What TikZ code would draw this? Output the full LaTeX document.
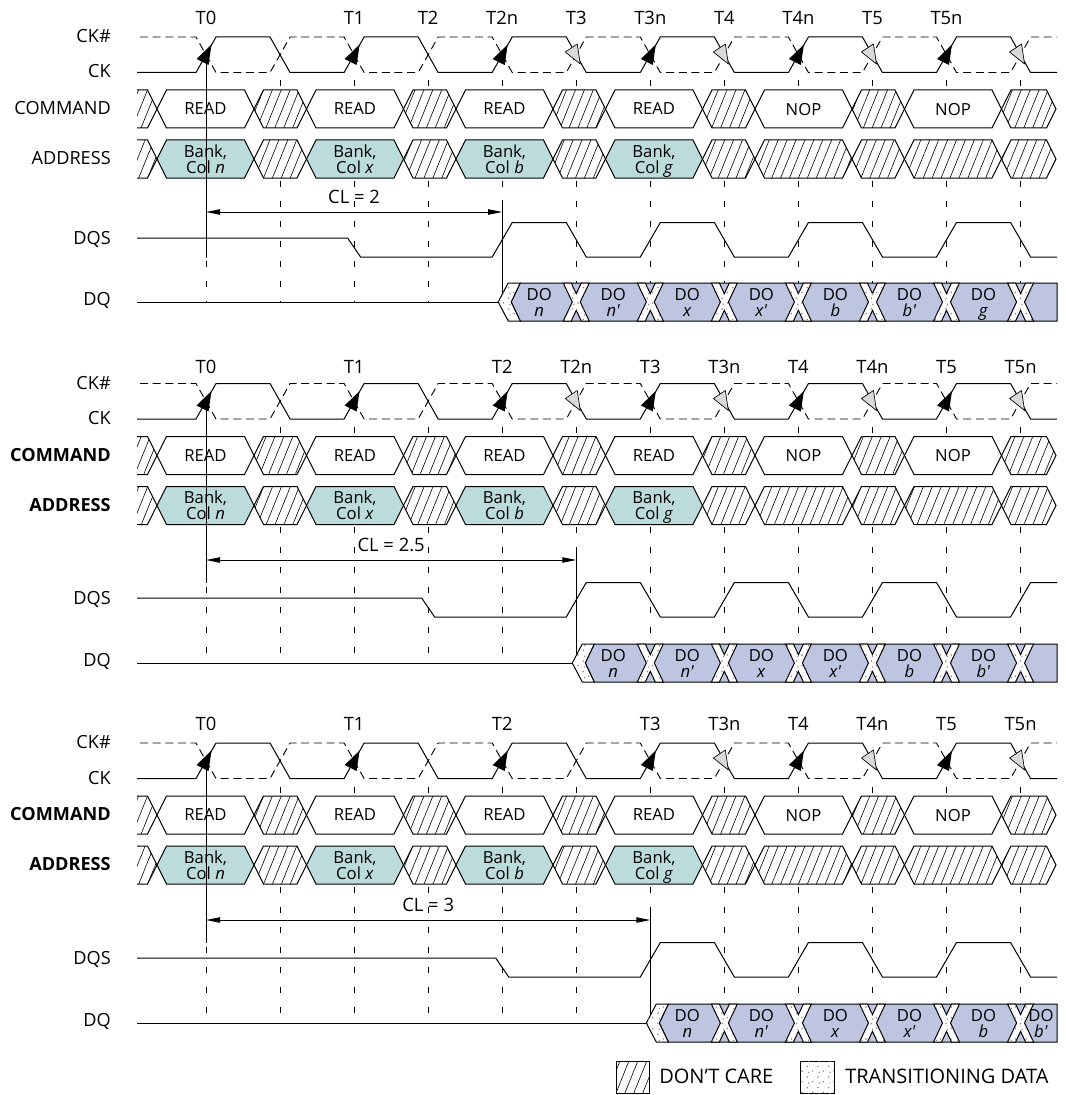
\documentclass[tikz,border=0pt]{standalone}
\usepackage{fontspec}
\setmainfont{Open Sans}
\usetikzlibrary{arrows.meta,patterns.meta}
\definecolor{addrfill}{HTML}{BBDCDA}
\definecolor{dqfill}{HTML}{BDC5E0}
\definecolor{arrgray}{HTML}{D9D9D9}
\definecolor{dotgray}{HTML}{7A7A7A}

\tikzdeclarepattern{
  name=sparsedots,
  type=uncolored,
  bottom left={(-1pt,-1pt)},
  top right={(9pt,9pt)},
  tile size={(8pt,8pt)},
  code={
    \fill (1.5pt,2pt) circle[radius=0.6pt];
    \fill (5.5pt,5.5pt) circle[radius=0.6pt];
    \fill (6.5pt,1pt) circle[radius=0.55pt];
  }
}

\newcommand\ckx[1]{(206+74.05*(#1))}
\newcommand\cmx[1]{(205.5+149.5*(#1))}
\newcommand\pr{\textquotesingle}

\tikzset{
  sig/.style={line width=0.75pt},
  ckb/.style={line width=0.7pt, dash pattern=on 6pt off 3.5pt},
  guide/.style={line width=0.6pt, dash pattern=on 4.5pt off 10.5pt},
  hatch/.style={fill=white, postaction={pattern={Lines[angle=68,distance=6.2pt,line width=0.45pt]}}},
  trans/.style={fill=white, postaction={pattern=sparsedots, pattern color=dotgray}},
  lab/.style={font=\fontsize{13.6}{16}\selectfont, anchor=base east, inner sep=0pt},
  blab/.style={font=\fontsize{13.6}{16}\selectfont\bfseries, anchor=base east, inner sep=0pt},
  tlab/.style={font=\fontsize{13.8}{16}\selectfont, anchor=base, inner sep=0pt},
  btxt/.style={font=\fontsize{12.5}{12}\selectfont, align=center, inner sep=0pt, text depth=0pt},
  legt/.style={font=\fontsize{15}{17}\selectfont, anchor=base west, inner sep=0pt},
  cla/.style={{Triangle[length=10.5pt,width=4pt]}-{Triangle[length=10.5pt,width=4pt]}},
}

\newcommand\hexa[5]{\draw[#1] ({#2},{(#4+#5)/2}) -- ({#2+9.5},{#4}) -- ({#3-9.5},{#4}) -- ({#3},{(#4+#5)/2}) -- ({#3-9.5},{#5}) -- ({#2+9.5},{#5}) -- cycle;}
\newcommand\barrow[2]{\fill[black] ({#1+5.5},{#2+7.5}) -- ({#1-9.5},{#2+22}) -- ({#1+2.5},{#2+28}) -- cycle;}
\newcommand\garrow[2]{\filldraw[fill=arrgray,draw=black,line width=0.5pt,line join=round] ({#1-11},{#2+15}) -- ({#1+1},{#2+7}) -- ({#1+4},{#2+27}) -- cycle;}

% #1 offset, #2 prefix, #3 label style, #4 guide bottom
\newcommand\toprows[4]{%
 \pgfmathsetmacro\yH{37+#1}%
 \pgfmathsetmacro\yL{72.5+#1}%
 \pgfmathsetmacro\yCt{90+#1}%
 \pgfmathsetmacro\yCb{128+#1}%
 \pgfmathsetmacro\yCm{109+#1}%
 \pgfmathsetmacro\yAt{140+#1}%
 \pgfmathsetmacro\yAb{178+#1}%
 \pgfmathsetmacro\yAm{159+#1}%
 \foreach \kk in {0,...,11}{\draw[guide] ({\ckx{\kk}},{\yL+8}) -- ({\ckx{\kk}},{#4});}
 \draw[sig] (137,\yL) \foreach \kk in {0,...,11}{ -- ({\ckx{\kk}-10},{\yL+(\yH-\yL)*mod(\kk,2)}) -- ({\ckx{\kk}+10},{\yH+(\yL-\yH)*mod(\kk,2)})} -- (1057,\yL);
 \draw[ckb] (140,\yH) \foreach \kk in {0,...,11}{ -- ({\ckx{\kk}-10},{\yH+(\yL-\yH)*mod(\kk,2)}) -- ({\ckx{\kk}+10},{\yL+(\yH-\yL)*mod(\kk,2)})} -- (1057,\yH);
 % COMMAND
 \draw[sig,hatch] (137,\yCt) -- ({\cmx{0}-58},\yCt) -- ({\cmx{0}-48.5},\yCm) -- ({\cmx{0}-58},\yCb) -- (137,\yCb);
 \foreach \mm in {0,...,4}{\hexa{sig,hatch}{\cmx{\mm}+48.5}{\cmx{\mm+1}-48.5}{\yCt}{\yCb}}
 \hexa{sig,hatch}{\cmx{5}+48.5}{1056}{\yCt}{\yCb}
 \foreach \mm/\tx in {0/READ,1/READ,2/READ,3/READ,4/NOP,5/NOP}{%
   \hexa{sig,fill=white}{\cmx{\mm}-48.5}{\cmx{\mm}+48.5}{\yCt}{\yCb}
   \node[btxt] (#2cmd\mm) at ({\cmx{\mm}},\yCm) {\tx};}
 % ADDRESS
 \draw[sig,hatch] (137,\yAt) -- ({\cmx{0}-58},\yAt) -- ({\cmx{0}-48.5},\yAm) -- ({\cmx{0}-58},\yAb) -- (137,\yAb);
 \foreach \mm in {0,...,4}{\hexa{sig,hatch}{\cmx{\mm}+48.5}{\cmx{\mm+1}-48.5}{\yAt}{\yAb}}
 \hexa{sig,hatch}{\cmx{5}+48.5}{1056}{\yAt}{\yAb}
 \foreach \mm in {4,5}{\hexa{sig,hatch}{\cmx{\mm}-48.5}{\cmx{\mm}+48.5}{\yAt}{\yAb}}
 \foreach \mm/\tx in {0/n,1/x,2/b,3/g}{%
   \hexa{sig,fill=addrfill}{\cmx{\mm}-48.5}{\cmx{\mm}+48.5}{\yAt}{\yAb}
   \node[btxt] (#2adr\mm) at ({\cmx{\mm}},\yAm) {Bank,\\Col \textit{\tx}};}
 % labels
 \node[lab] (#2ckh) at (111,{\yH+5.5}) {CK\#};
 \node[lab] (#2ck) at (111,{\yL+5.5}) {CK};
 \node[#3] (#2cmdl) at (111,{\yCm+5.5}) {COMMAND};
 \node[#3] (#2adrl) at (111,{\yAm+5.5}) {ADDRESS};
}

% #1 mid, #2 preamble k, #3 first edge k
\newcommand\dqsline[3]{%
 \pgfmathsetmacro\yM{#1}\pgfmathsetmacro\yHi{#1-15.5}\pgfmathsetmacro\yLo{#1+19}%
 \draw[sig] (137,\yM) -- ({\ckx{#2}-6.5},\yM) -- ({\ckx{#2}+6.5},\yLo)
   \foreach \kk in {#3,...,11}{ -- ({\ckx{\kk}-10},{\yLo+(\yHi-\yLo)*mod(\kk-#3,2)}) -- ({\ckx{\kk}+10},{\yHi+(\yLo-\yHi)*mod(\kk-#3,2)})} -- ++(26.5,0);
}

% #1 mid, #2 start k
\newcommand\dqrow[2]{%
 \pgfmathsetmacro\yM{#1}\pgfmathsetmacro\yT{#1-19}\pgfmathsetmacro\yB{#1+19}%
 \pgfmathsetmacro\xs{\ckx{#2}}%
 \draw[sig] (137,\yM) -- ({\xs-4},\yM);
 \draw[sig,fill=dqfill] ({\xs+9},\yM) -- ({\xs+18},\yT) -- (1057,\yT) -- (1057,\yB) -- ({\xs+18},\yB) -- cycle;
 \draw[sig,trans] ({\xs-4},\yM) -- ({\xs+6},\yT) -- ({\xs+18},\yT) -- ({\xs+9},\yM) -- ({\xs+18},\yB) -- ({\xs+6},\yB) -- cycle;
 \pgfmathtruncatemacro\kn{#2+1}%
 \foreach \kk in {\kn,...,11}{%
   \pgfmathsetmacro\xx{\ckx{\kk}}%
   \draw[sig,trans] ({\xx-13},\yT) -- ({\xx-5},\yT) -- (\xx,{\yT+10.6}) -- ({\xx+5},\yT) -- ({\xx+13},\yT) -- ({\xx+4},\yM) -- ({\xx+13},\yB) -- ({\xx+5},\yB) -- (\xx,{\yB-10.6}) -- ({\xx-5},\yB) -- ({\xx-13},\yB) -- ({\xx-4},\yM) -- cycle;}
}

\begin{document}
\begin{tikzpicture}[x=0.75pt,y=-0.75pt]
\useasboundingbox (0,0) rectangle (1065,1095);
\fill[white] (0,0) rectangle (1065,1095);

% ================= Panel 1 =================
\toprows{0}{a}{lab}{302}
\foreach \kk in {0,2,4,6,8,10}{\barrow{\ckx{\kk}}{37}}
\foreach \kk in {5,7,9,11}{\garrow{\ckx{\kk}}{37}}
\foreach \kk/\tx [count=\i] in {0/T0,2/T1,3/T2,4/T2n,5/T3,6/T3n,7/T4,8/T4n,9/T5,10/T5n}{\node[tlab] (aT\i) at ({\ckx{\kk}},24.8) {\tx};}
\draw[sig] ({\ckx{0}},61) -- ({\ckx{0}},258);
\coordinate (aclA) at ({\ckx{0}},212);
\coordinate (aclB) at ({\ckx{4}},212);
\draw[sig,cla] (aclA) -- (aclB);
\node[tlab] (aCL) at ({(\ckx{0}+\ckx{4})/2},203.5) {CL = 2};
\draw[sig] ({\ckx{4}},200) -- ({\ckx{4}},302);
\dqsline{238}{2}{4}
\dqrow{302}{4}
\foreach \kk/\tx in {4/n,5/n\pr,6/x,7/x\pr,8/b,9/b\pr,10/g}{\node[btxt] (aDO\kk) at ({\ckx{\kk}+37},302) {DO\\\textit{\tx}};}
\node[lab] (aDQS) at (111,244.5) {DQS};
\node[lab] (aDQ) at (111,305) {DQ};

% ================= Panel 2 =================
\toprows{346.5}{b}{blab}{663}
\foreach \kk in {0,2,4,6,8,10}{\barrow{\ckx{\kk}}{383.5}}
\foreach \kk in {5,7,9,11}{\garrow{\ckx{\kk}}{383.5}}
\foreach \kk/\tx [count=\i] in {0/T0,2/T1,4/T2,5/T2n,6/T3,7/T3n,8/T4,9/T4n,10/T5,11/T5n}{\node[tlab] (bT\i) at ({\ckx{\kk}},373.5) {\tx};}
\draw[sig] ({\ckx{0}},407) -- ({\ckx{0}},583);
\coordinate (bclA) at ({\ckx{0}},560);
\coordinate (bclB) at ({\ckx{5}},560);
\draw[sig,cla] (bclA) -- (bclB);
\node[tlab] (bCL) at ({(\ckx{0}+\ckx{5})/2},551.5) {CL = 2.5};
\draw[sig] ({\ckx{5}},548) -- ({\ckx{5}},663);
\dqsline{598}{3}{5}
\dqrow{663}{5}
\foreach \kk/\tx in {5/n,6/n\pr,7/x,8/x\pr,9/b,10/b\pr}{\node[btxt] (bDO\kk) at ({\ckx{\kk}+37},663) {DO\\\textit{\tx}};}
\node[lab] (bDQS) at (111,604.5) {DQS};
\node[lab] (bDQ) at (111,666) {DQ};

% ================= Panel 3 =================
\toprows{706}{c}{blab}{1023}
\foreach \kk in {0,2,4,6,8,10}{\barrow{\ckx{\kk}}{743}}
\foreach \kk in {7,9,11}{\garrow{\ckx{\kk}}{743}}
\foreach \kk/\tx [count=\i] in {0/T0,2/T1,4/T2,6/T3,7/T3n,8/T4,9/T4n,10/T5,11/T5n}{\node[tlab] (cT\i) at ({\ckx{\kk}},730.5) {\tx};}
\draw[sig] ({\ckx{0}},767) -- ({\ckx{0}},943);
\coordinate (cclA) at ({\ckx{0}},920);
\coordinate (cclB) at ({\ckx{6}},920);
\draw[sig,cla] (cclA) -- (cclB);
\node[tlab] (cCL) at ({(\ckx{0}+\ckx{6})/2},911.5) {CL = 3};
\draw[sig] ({\ckx{6}},908) -- ({\ckx{6}},1023);
\dqsline{958}{4}{6}
\dqrow{1023}{6}
\foreach \kk/\tx in {6/n,7/n\pr,8/x,9/x\pr,10/b}{\node[btxt] (cDO\kk) at ({\ckx{\kk}+37},1023) {DO\\\textit{\tx}};}
\node[btxt] (cDO11) at (1041,1023) {DO\\\textit{b\pr}};
\node[lab] (cDQS) at (111,964.5) {DQS};
\node[lab] (cDQ) at (111,1026) {DQ};

% ================= Legend =================
\draw[line width=0.6pt,hatch] (616,1061) rectangle (649,1093);
\node[legt] (leg1) at (659,1083) {DON’T CARE};
\draw[line width=0.6pt,trans] (800,1061) rectangle (834,1093);
\node[legt] (leg2) at (845,1083) {TRANSITIONING DATA};
\end{tikzpicture}
\end{document}
